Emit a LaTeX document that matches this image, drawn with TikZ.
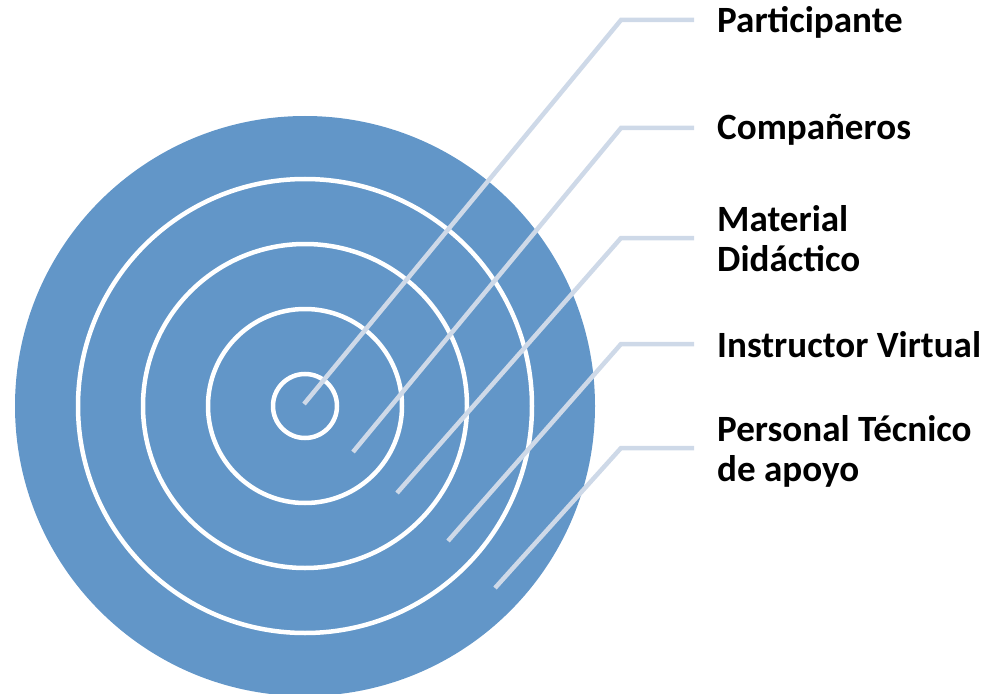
\documentclass[tikz,border=0pt]{standalone}
\usepackage{fontspec}
\setmainfont{Carlito}
\definecolor{disc}{HTML}{6296C8}
\definecolor{leader}{HTML}{CED9E8}
\begin{document}
\begin{tikzpicture}[x=1bp,y=-1bp,
  ring/.style={draw=white,line width=4.5bp},
  leaderline/.style={draw=leader,line width=4.5bp},
  lbl/.style={anchor=base west,inner sep=0pt,align=left,font=\bfseries\fontsize{37.2}{39.5}\selectfont}]
\useasboundingbox (0,0) rectangle (996,694);
\coordinate (o) at (305,406);
\fill[disc] (o) circle (290);
\foreach \r in {32,97,162,227} \draw[ring] (o) circle (\r);
% labels (base anchor of a two-line node is the baseline of its last line)
\node[lbl] (t1) at (717,33) {Participante};
\node[lbl] (t2) at (717,140) {Compañeros};
\node[lbl] (t3) at (717,271) {Material\\Didáctico};
\node[lbl] (t4) at (717,357) {Instructor Virtual};
\node[lbl] (t5) at (717,481) {Personal Técnico\\de apoyo};
% leader coordinates
\coordinate (s1) at (304,404); \coordinate (c1) at (621,20);  \coordinate (e1) at (694,20);
\coordinate (s2) at (353,452); \coordinate (c2) at (621,128); \coordinate (e2) at (694,128);
\coordinate (s3) at (397,493); \coordinate (c3) at (621,238); \coordinate (e3) at (694,238);
\coordinate (s4) at (448,541); \coordinate (c4) at (621,344); \coordinate (e4) at (694,344);
\coordinate (s5) at (495,588); \coordinate (c5) at (621,448); \coordinate (e5) at (694,448);
\foreach \i in {1,...,5} \draw[leaderline] (s\i) -- (c\i) -- (e\i);
\end{tikzpicture}
\end{document}
